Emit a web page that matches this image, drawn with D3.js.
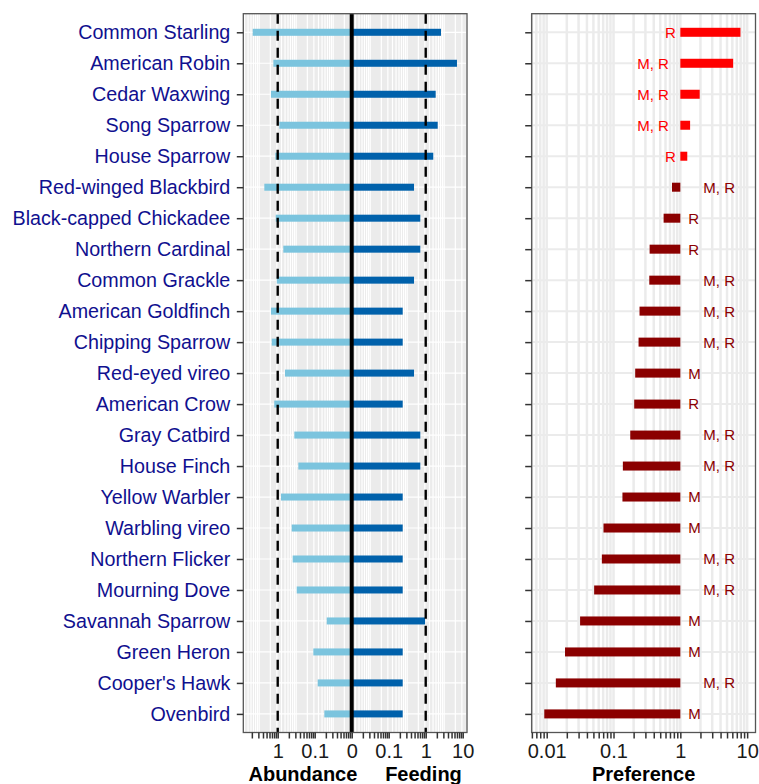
<!DOCTYPE html>
<html><head><meta charset="utf-8">
<script src="https://cdn.jsdelivr.net/npm/d3@7"></script>
<style>body{margin:0;background:#fff} svg{display:block}</style>
</head><body>
<svg id="c" width="759" height="784"></svg>
<script>
const species = ["Common Starling","American Robin","Cedar Waxwing","Song Sparrow","House Sparrow","Red-winged Blackbird","Black-capped Chickadee","Northern Cardinal","Common Grackle","American Goldfinch","Chipping Sparrow","Red-eyed vireo","American Crow","Gray Catbird","House Finch","Yellow Warbler","Warbling vireo","Northern Flicker","Mourning Dove","Savannah Sparrow","Green Heron","Cooper's Hawk","Ovenbird"];
const abundance = [4.74,1.31,1.52,0.905,1.16,2.30,1.13,0.706,1.06,1.52,1.45,0.635,1.24,0.356,0.277,0.814,0.419,0.394,0.306,0.0474,0.109,0.083,0.055];
const feeding = [2.59,7.0,1.86,2.11,1.60,0.483,0.714,0.714,0.483,0.239,0.239,0.483,0.239,0.714,0.714,0.239,0.239,0.239,0.239,0.96,0.239,0.239,0.239];
const preference = [7.94,6.17,1.95,1.40,1.27,0.75,0.562,0.347,0.343,0.245,0.237,0.211,0.204,0.178,0.138,0.136,0.0708,0.0669,0.0513,0.0316,0.0188,0.0137,0.0092];
const prefLabels = ["R","M, R","M, R","M, R","R","M, R","R","R","M, R","M, R","M, R","M","R","M, R","M, R","M","M","M, R","M, R","M","M","M, R","M"];
const abundanceTicks = [1, 0.1];
const feedingTicks = [0.1, 1, 10];
const prefTicks = [0.01, 0.1, 1, 10];
const zeroValue = 0.01;   // value shown as "0" at the centre of the left panel
const refLine = 1;        // dashed reference lines

const svg = d3.select("#c");
const yTop = 13.7, yBot = 732.5;
const L = {x0: 243.3, x1: 467};
const R = {x0: 531.7, x1: 755.5};
const font = "'Liberation Sans', Arial, Helvetica, sans-serif";

const y = d3.scalePoint().domain(species).range([yTop, yBot]).padding(0.6);

// left panel: one continuous log scale; abundance mirrored on the left
const u = d3.scaleLog().domain([Math.pow(10,-2.93), Math.pow(10,3.116)]).range([L.x0, L.x1]);
const uAb = a => zeroValue / a;
const uFe = f => f / zeroValue;
const cx = u(1);

// right panel
const xp = d3.scaleLog().domain([Math.pow(10,-2.2245), Math.pow(10,1.125)]).range([R.x0, R.x1]);

// ---------- left panel ----------
const gl = svg.append("g");
gl.append("rect").attr("x", L.x0).attr("y", yTop).attr("width", L.x1-L.x0).attr("height", yBot-yTop).attr("fill", "#EBEBEB");
const uTicks = u.ticks();
const gShift = Math.sqrt(10);
const [ud0, ud1] = u.domain();
const uGrid = d3.scaleLog().domain([ud0/gShift, ud1/gShift]).ticks().map(d=>d*gShift);
gl.selectAll("line.vg").data(uGrid).join("line")
  .attr("x1", d=>u(d)).attr("x2", d=>u(d)).attr("y1", yTop).attr("y2", yBot)
  .attr("stroke", "#fff").attr("stroke-width", 1.2);
gl.selectAll("line.hg").data(species).join("line")
  .attr("x1", L.x0).attr("x2", L.x1).attr("y1", d=>y(d)).attr("y2", d=>y(d))
  .attr("stroke", "#fff").attr("stroke-width", 1.2);

const bh = 7;
gl.selectAll("rect.ab").data(species).join("rect")
  .attr("x", (d,i)=>u(uAb(abundance[i]))).attr("width", (d,i)=>cx - u(uAb(abundance[i])))
  .attr("y", d=>y(d)-bh/2).attr("height", bh).attr("fill", "#7BC4DE");
gl.selectAll("rect.fe").data(species).join("rect")
  .attr("x", cx).attr("width", (d,i)=>u(uFe(feeding[i])) - cx)
  .attr("y", d=>y(d)-bh/2).attr("height", bh).attr("fill", "#0061AB");

[uAb(refLine), uFe(refLine)].forEach(v=>{
  gl.append("line").attr("x1", u(v)).attr("x2", u(v)).attr("y1", yTop).attr("y2", yBot)
    .attr("stroke", "#000").attr("stroke-width", 2.4).attr("stroke-dasharray", "10,7");
});
gl.append("line").attr("x1", cx).attr("x2", cx).attr("y1", yTop).attr("y2", yBot)
  .attr("stroke", "#000").attr("stroke-width", 4);
gl.append("rect").attr("x", L.x0).attr("y", yTop).attr("width", L.x1-L.x0).attr("height", yBot-yTop)
  .attr("fill", "none").attr("stroke", "#555").attr("stroke-width", 1.3);

const labelMap = new Map();
abundanceTicks.forEach(v=>labelMap.set(+uAb(v).toPrecision(6), String(v)));
feedingTicks.forEach(v=>labelMap.set(+uFe(v).toPrecision(6), String(v)));
labelMap.set(1, "0");
const axL = svg.append("g").attr("transform", `translate(0,${yBot})`)
  .call(d3.axisBottom(u).tickValues(uTicks).tickSize(6).tickPadding(5)
    .tickFormat(d=>labelMap.get(+d.toPrecision(6)) || ""));
const axY = svg.append("g").attr("transform", `translate(${L.x0},0)`)
  .call(d3.axisLeft(y).tickSize(6.5).tickPadding(6.5));

// ---------- right panel ----------
const gr = svg.append("g");
gr.append("rect").attr("x", R.x0).attr("y", yTop).attr("width", R.x1-R.x0).attr("height", yBot-yTop).attr("fill", "#fff");
const pTicks = xp.ticks();
gr.selectAll("line.vg").data(pTicks).join("line")
  .attr("x1", d=>xp(d)).attr("x2", d=>xp(d)).attr("y1", yTop).attr("y2", yBot)
  .attr("stroke", "#EBEBEB").attr("stroke-width", 2.5);
gr.selectAll("line.hg").data(species).join("line")
  .attr("x1", R.x0).attr("x2", R.x1).attr("y1", d=>y(d)).attr("y2", d=>y(d))
  .attr("stroke", "#EBEBEB").attr("stroke-width", 2);
const pb = 9;
const colOf = v => v > 1 ? "#FF0000" : "#8B0000";
gr.selectAll("rect.p").data(species).join("rect")
  .attr("x", (d,i)=>Math.min(xp(1), xp(preference[i])))
  .attr("width", (d,i)=>Math.abs(xp(preference[i]) - xp(1)))
  .attr("y", d=>y(d)-pb/2).attr("height", pb)
  .attr("fill", (d,i)=>colOf(preference[i]));
gr.selectAll("text.pl").data(species).join("text")
  .attr("x", (d,i)=>{
    const multi = prefLabels[i].includes(",");
    return preference[i] > 1 ? xp(1) - 4.5 - (multi?7:0) : xp(1) + 8 + (multi?15:0);
  })
  .attr("y", d=>y(d)).attr("dy", "0.36em")
  .attr("text-anchor", (d,i)=>preference[i] > 1 ? "end" : "start")
  .attr("fill", (d,i)=>colOf(preference[i]))
  .style("font-family", font).style("font-size", "15px")
  .text((d,i)=>prefLabels[i]);
gr.append("rect").attr("x", R.x0).attr("y", yTop).attr("width", R.x1-R.x0).attr("height", yBot-yTop)
  .attr("fill", "none").attr("stroke", "#555").attr("stroke-width", 1.3);

const prefSet = new Set(prefTicks.map(v=>+v.toPrecision(6)));
const axP = svg.append("g").attr("transform", `translate(0,${yBot})`)
  .call(d3.axisBottom(xp).tickValues(pTicks).tickSize(6).tickPadding(5)
    .tickFormat(d=>prefSet.has(+d.toPrecision(6)) ? String(+d.toPrecision(6)) : ""));
svg.append("g").attr("transform", `translate(${R.x0},0)`)
  .call(d3.axisLeft(y).tickSize(6.5).tickFormat(""));

// axis styling
svg.selectAll(".domain").remove();
svg.selectAll(".tick line").attr("stroke", "#333").attr("stroke-width", 1.5);
svg.selectAll(".tick text").style("font-family", font);
axL.selectAll("text").attr("fill", "#1a1a1a").style("font-size", "20px");
axP.selectAll("text").attr("fill", "#1a1a1a").style("font-size", "20px");
axY.selectAll("text").attr("fill", "#10108F").style("font-size", "19.7px");

// titles
svg.append("text").attr("x", (L.x0+L.x1)/2).attr("y", 781).attr("text-anchor", "middle")
  .style("font-family", font).style("font-size", "20px").style("font-weight", "bold").style("white-space", "pre")
  .text("Abundance     Feeding");
svg.append("text").attr("x", (R.x0+R.x1)/2).attr("y", 781).attr("text-anchor", "middle")
  .style("font-family", font).style("font-size", "20px").style("font-weight", "bold")
  .text("Preference");
</script>
</body></html>
